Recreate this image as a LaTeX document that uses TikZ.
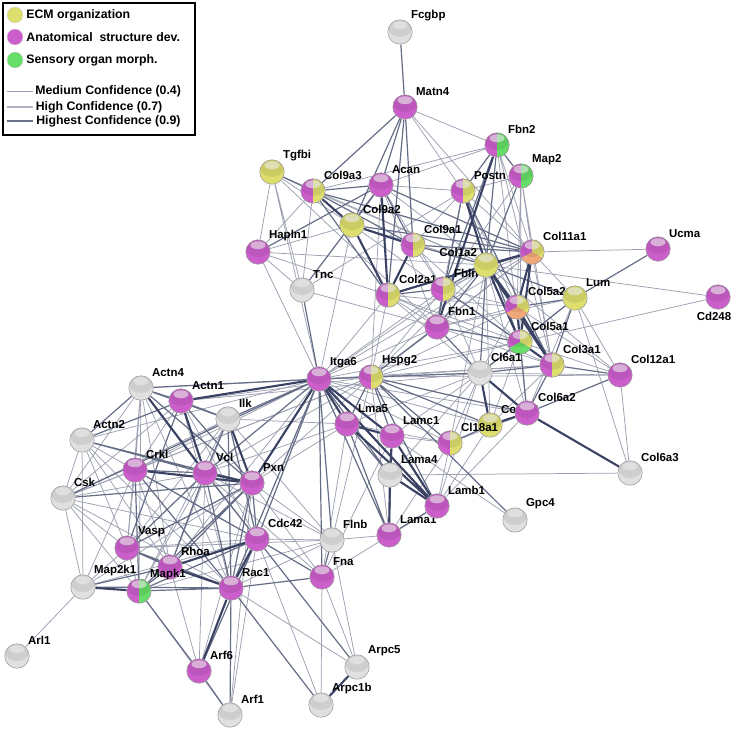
\documentclass[tikz,border=0pt]{standalone}
\usepackage{fontspec}
\setmainfont{Liberation Sans}
\usepackage{tikz}
\usetikzlibrary{backgrounds}
\definecolor{anatc}{HTML}{CC5ECC}
\definecolor{ecmc}{HTML}{DEDE6E}
\definecolor{sensc}{HTML}{66DD66}
\definecolor{orc}{HTML}{F0A878}
\definecolor{greyc}{HTML}{E0E0E0}
\definecolor{edgec}{HTML}{3A4264}
\newcommand\gloss{\fill[white,opacity=.6] ([yshift=-5.5pt]path picture bounding box.north) ellipse (7.5pt and 4pt);
  \fill[black,opacity=.08] ([yshift=4pt]path picture bounding box.center) ellipse (12pt and 9pt);}
\tikzstyle{gene}=[circle,draw=black!40,line width=0.5,inner sep=0mm,minimum size=24.5pt]
\tikzstyle{plain}=[gene,fill=greyc,path picture={\gloss}]
\tikzstyle{anat}=[gene,fill=anatc,path picture={\gloss}]
\tikzstyle{ecm}=[gene,fill=ecmc,path picture={\gloss}]
\tikzstyle{anatecm}=[gene,fill=anatc,path picture={\fill[ecmc] (path picture bounding box.north) rectangle (path picture bounding box.south east);\gloss}]
\tikzstyle{anatsens}=[gene,fill=anatc,path picture={\fill[sensc] (path picture bounding box.north) rectangle (path picture bounding box.south east);\gloss}]
\tikzset{trio/.style={gene,fill=anatc,path picture={
  \fill[ecmc] (path picture bounding box.center) -- +(330:15pt) -- +(30:15pt) -- +(90:15pt) -- cycle;
  \fill[#1] (path picture bounding box.center) -- +(210:15pt) -- +(270:15pt) -- +(330:15pt) -- cycle;
  \gloss}}}
\tikzstyle{lbl}=[font=\fontsize{11.5}{12}\selectfont\bfseries,inner sep=2pt]
\tikzstyle{legtxt}=[font=\fontsize{12.3}{13}\selectfont\bfseries,inner sep=2pt]
\tikzstyle{key}=[circle,inner sep=0mm,minimum size=16pt,draw=black!15]
\tikzstyle{medconf}=[draw=edgec!50,line width=0.75]
\tikzstyle{highconf}=[draw=edgec!78,line width=1.2]
\tikzstyle{maxconf}=[draw=edgec,line width=2.1]

\begin{document}
\begin{tikzpicture}[x=1pt,y=-1pt]
  \useasboundingbox (0,0) rectangle (736,733);
  % legend
  \draw[line width=1.6pt] (3,3) rectangle (195,135);
  \node[key,fill=ecmc,label={[legtxt,label distance=1pt]right:ECM organization}] at (15,15) (kecm) {};
  \node[key,fill=anatc,label={[legtxt,label distance=1pt]right:Anatomical~~structure dev.}] at (15,37) (kanat) {};
  \node[key,fill=sensc,label={[legtxt,label distance=1pt]right:Sensory organ morph.}] at (15,60) (ksens) {};
  \coordinate (kmed1) at (7,91);
  \coordinate (kmed2) at (33,91);
  \coordinate (khigh1) at (7,107);
  \coordinate (khigh2) at (33,107);
  \coordinate (kmax1) at (7,121);
  \coordinate (kmax2) at (33,121);
  \draw[medconf] (kmed1) -- (kmed2) node[legtxt,right] (tmed) {Medium Confidence (0.4)};
  \draw[highconf,draw=edgec!40,line width=1.6] (khigh1) -- (khigh2) node[legtxt,right] (thigh) {High Confidence (0.7)};
  \draw[maxconf,draw=edgec!75,line width=2.6] (kmax1) -- (kmax2) node[legtxt,right] (tmax) {Highest Confidence (0.9)};

  % extracellular matrix part
  \node[plain,label={[lbl]45:Fcgbp}] at (400,32) (fcgbp) {};
  \node[anat,label={[lbl]45:Matn4}] at (405,107) (matn4) {};
  \node[ecm,label={[lbl]45:Tgfbi}] at (272,172) (tgfbi) {};
  \node[anatecm,label={[lbl]45:Col9a3}] at (313,191) (col9a3) {};
  \node[anat,label={[lbl]45:Acan}] at (381,185) (acan) {};
  \node[anatecm,label={[lbl]45:Postn}] at (463,191) (postn) {};
  \node[anatsens,label={[lbl]45:Fbn2}] at (497,145) (fbn2) {};
  \node[anatsens,label={[lbl]45:Map2}] at (521,176) (map2) {};
  \node[ecm,label={[lbl]45:Col9a2}] at (352,225) (col9a2) {};
  \node[anat,label={[lbl]45:Hapln1}] at (258,252) (hapln1) {};
  \node[anatecm,label={[lbl]45:Col9a1}] at (413,245) (col9a1) {};
  \node[plain,label={[lbl]45:Tnc}] at (302,290) (tnc) {};
  \node[anatecm,label={[lbl]45:Col2a1}] at (388,295) (col2a1) {};
  \node[anatecm,label={[lbl]45:Fbln}] at (443,289) (fbln) {};
  \node[ecm,label={[lbl,xshift=4pt]150:Col1a2}] at (486,265) (col1a2) {};
  \node[trio=orc,label={[lbl]45:Col11a1}] at (532,252) (col11a1) {};
  \node[anat,label={[lbl]45:Ucma}] at (658,249) (ucma) {};
  \node[anat,label={[lbl]45:Fbn1}] at (437,327) (fbn1) {};
  \node[trio=orc,label={[lbl]45:Col5a2}] at (517,307) (col5a2) {};
  \node[ecm,label={[lbl]45:Lum}] at (575,298) (lum) {};
  \node[anat,label={[lbl,xshift=-4pt]-90:Cd248}] at (718,297) (cd248) {};
  \node[trio=sensc,label={[lbl]45:Col5a1}] at (520,342) (col5a1) {};
  \node[plain,label={[lbl]45:Cl6a1}] at (480,373) (cl6a1) {};
  \node[anatecm,label={[lbl]45:Col3a1}] at (552,365) (col3a1) {};
  \node[anat,label={[lbl]45:Col12a1}] at (620,375) (col12a1) {};
  \node[ecm,label={[lbl]45:Col6a6}] at (490,425) (col6a6) {};
  \node[anat,label={[lbl]45:Col6a2}] at (527,413) (col6a2) {};
  \node[anatecm,label={[lbl]45:Cl18a1}] at (450,443) (cl18a1) {};
  \node[plain,label={[lbl]45:Col6a3}] at (630,473) (col6a3) {};
  \node[plain,label={[lbl]45:Gpc4}] at (515,520) (gpc4) {};

  % basement membrane part
  \node[anat,label={[lbl]45:Itga6}] at (319,379) (itga6) {};
  \node[anatecm,label={[lbl]45:Hspg2}] at (371,377) (hspg2) {};
  \node[anat,label={[lbl]45:Lma5}] at (347,424) (lma5) {};
  \node[anat,label={[lbl]45:Lamc1}] at (392,436) (lamc1) {};
  \node[plain,label={[lbl]45:Lama4}] at (390,475) (lama4) {};
  \node[anat,label={[lbl]45:Lama1}] at (389,535) (lama1) {};
  \node[anat,label={[lbl]45:Lamb1}] at (437,506) (lamb1) {};
  \node[plain,label={[lbl]45:Flnb}] at (332,540) (flnb) {};
  \node[anat,label={[lbl]45:Fna}] at (322,577) (fna) {};

  % focal adhesion part
  \node[plain,label={[lbl]45:Actn4}] at (141,388) (actn4) {};
  \node[anat,label={[lbl]45:Actn1}] at (181,401) (actn1) {};
  \node[plain,label={[lbl]45:Ilk}] at (228,419) (ilk) {};
  \node[plain,label={[lbl]45:Actn2}] at (82,440) (actn2) {};
  \node[anat,label={[lbl]45:Crkl}] at (135,470) (crkl) {};
  \node[anat,label={[lbl]45:Vcl}] at (205,473) (vcl) {};
  \node[anat,label={[lbl]45:Pxn}] at (252,483) (pxn) {};
  \node[plain,label={[lbl]45:Csk}] at (63,498) (csk) {};
  \node[anat,label={[lbl]45:Vasp}] at (127,548) (vasp) {};
  \node[anat,label={[lbl]45:Rhoa}] at (170,567) (rhoa) {};
  \node[anat,label={[lbl]45:Cdc42}] at (257,539) (cdc42) {};
  \node[anat,label={[lbl]45:Rac1}] at (231,588) (rac1) {};
  \node[plain,label={[lbl]45:Map2k1}] at (83,587) (map2k1) {};
  \node[anatsens,label={[lbl]45:Mapk1}] at (139,591) (mapk1) {};
  \node[plain,label={[lbl]45:Arl1}] at (17,656) (arl1) {};
  \node[anat,label={[lbl]45:Arf6}] at (199,671) (arf6) {};
  \node[plain,label={[lbl]45:Arf1}] at (230,715) (arf1) {};
  \node[plain,label={[lbl]45:Arpc5}] at (357,667) (arpc5) {};
  \node[plain,label={[lbl]45:Arpc1b}] at (321,705) (arpc1b) {};

  \begin{scope}[on background layer]
    % medium confidence
    \draw[medconf] (matn4) -- (postn) (matn4) -- (fbn2) (matn4) -- (col11a1);
    \draw[medconf] (fbn2) -- (col9a3) (fbn2) -- (acan) (fbn2) -- (col5a1) (fbn2) -- (col3a1) (fbn2) -- (col11a1);
    \draw[medconf] (map2) -- (col5a1) (map2) -- (col3a1) (map2) -- (fbln) (map2) -- (postn) (map2) -- (col11a1) (map2) -- (col5a2);
    \draw[medconf] (postn) -- (col11a1) (postn) -- (col9a1) (postn) -- (acan) (postn) -- (tnc) (postn) -- (col5a2) (postn) -- (fbln);
    \draw[medconf] (tgfbi) -- (col9a2) (tgfbi) -- (hapln1) (tgfbi) -- (tnc) (tgfbi) -- (itga6) (tgfbi) -- (col1a2) (tgfbi) -- (fbn1);
    \draw[medconf] (hapln1) -- (col9a3) (hapln1) -- (col2a1) (hapln1) -- (col9a2) (hapln1) -- (itga6) (hapln1) -- (tnc) (hapln1) -- (col1a2);
    \draw[medconf] (tnc) -- (col9a3) (tnc) -- (fbn1) (acan) -- (fbn1) (acan) -- (hspg2) (acan) -- (col1a2) (acan) -- (fbln);
    \draw[medconf] (col9a3) -- (col1a2) (col9a2) -- (col1a2) (col9a2) -- (fbln) (col9a1) -- (col5a1) (col9a1) -- (fbln);
    \draw[medconf] (col2a1) -- (col5a1) (col2a1) -- (col5a2) (col2a1) -- (col3a1) (col2a1) -- (cl6a1) (fbn1) -- (col11a1);
    \draw[medconf] (ucma) -- (col11a1) (cd248) -- (col1a2) (cd248) -- (col5a1);
    \draw[medconf] (col12a1) -- (col5a1) (col12a1) -- (cl6a1) (col12a1) -- (col6a3) (col12a1) -- (lum) (col12a1) -- (col1a2) (col12a1) -- (col5a2);
    \draw[medconf] (lum) -- (col6a2) (lum) -- (col6a3) (lum) -- (cl6a1) (lum) -- (fbn1) (col11a1) -- (lum) (col11a1) -- (col3a1);
    \draw[medconf] (fbln) -- (col3a1) (fbln) -- (col11a1) (fbln) -- (col5a2) (fbln) -- (cl6a1) (fbn1) -- (col3a1) (fbn1) -- (col2a1) (fbn1) -- (col5a2);
    \draw[medconf] (cl18a1) -- (col6a2) (cl18a1) -- (cl6a1) (cl18a1) -- (col1a2) (col6a6) -- (col1a2) (col6a6) -- (col3a1) (col6a2) -- (col5a2);
    \draw[medconf] (col1a2) -- (col6a2) (col5a2) -- (cl6a1) (col5a1) -- (col6a6);
    \draw[medconf] (itga6) -- (fbn1) (itga6) -- (col1a2) (itga6) -- (cl6a1) (itga6) -- (col9a2) (itga6) -- (col2a1) (itga6) -- (col6a2);
    \draw[medconf] (itga6) -- (col5a1) (itga6) -- (col3a1) (itga6) -- (fbln) (itga6) -- (col11a1) (itga6) -- (cl18a1) (itga6) -- (col6a6);
    \draw[medconf] (hspg2) -- (lama1) (hspg2) -- (col1a2) (hspg2) -- (col2a1) (hspg2) -- (col12a1) (hspg2) -- (col5a1);
    \draw[medconf] (hspg2) -- (col3a1) (hspg2) -- (col5a2) (hspg2) -- (col11a1) (hspg2) -- (fbln);
    \draw[medconf] (lamc1) -- (cl18a1) (lamb1) -- (cl18a1) (lamb1) -- (col6a6) (lama4) -- (col6a3) (lamb1) -- (cl6a1) (lamb1) -- (col6a2);
    \draw[medconf] (lama4) -- (cl6a1) (lamc1) -- (cl6a1) (lma5) -- (cl6a1) (lma5) -- (cl18a1) (lama1) -- (cl18a1) (lamc1) -- (gpc4);
    \draw[medconf] (fna) -- (lma5) (fna) -- (lamb1) (fna) -- (lamc1) (flnb) -- (lama1) (flnb) -- (hspg2);
    \draw[medconf] (actn4) -- (crkl) (actn4) -- (csk) (actn4) -- (rhoa) (actn4) -- (vasp) (actn4) -- (hspg2) (actn4) -- (mapk1) (actn4) -- (rac1) (actn4) -- (cdc42);
    \draw[medconf] (actn1) -- (crkl) (actn1) -- (rac1) (actn1) -- (cdc42) (actn1) -- (hspg2) (actn1) -- (cl6a1) (actn1) -- (csk);
    \draw[medconf] (actn2) -- (crkl) (actn2) -- (csk) (actn2) -- (map2k1) (actn2) -- (itga6) (actn2) -- (rac1) (actn2) -- (cdc42) (actn2) -- (rhoa) (actn2) -- (vasp);
    \draw[medconf] (ilk) -- (crkl) (ilk) -- (flnb) (ilk) -- (rhoa) (ilk) -- (lma5) (ilk) -- (mapk1) (ilk) -- (vasp) (ilk) -- (csk);
    \draw[medconf] (crkl) -- (rhoa) (crkl) -- (csk) (crkl) -- (itga6) (crkl) -- (vasp) (crkl) -- (map2k1) (crkl) -- (hspg2);
    \draw[medconf] (csk) -- (vcl) (csk) -- (map2k1) (csk) -- (mapk1) (csk) -- (rac1) (csk) -- (cdc42) (csk) -- (vasp) (csk) -- (hspg2);
    \draw[medconf] (vcl) -- (mapk1) (vcl) -- (flnb) (vcl) -- (fna) (vcl) -- (lma5) (vcl) -- (hspg2) (vcl) -- (arf6);
    \draw[medconf] (pxn) -- (map2k1) (pxn) -- (flnb) (pxn) -- (fna) (pxn) -- (lma5) (pxn) -- (arf6) (pxn) -- (arf1) (pxn) -- (hspg2);
    \draw[medconf] (vasp) -- (cdc42) (vasp) -- (mapk1) (vasp) -- (map2k1) (vasp) -- (flnb) (rhoa) -- (arf6) (rhoa) -- (itga6);
    \draw[medconf] (rac1) -- (arpc5) (rac1) -- (flnb) (cdc42) -- (arf1) (cdc42) -- (arpc1b) (cdc42) -- (flnb) (map2k1) -- (cdc42) (mapk1) -- (flnb);
    \draw[medconf] (arpc5) -- (fna) (arpc1b) -- (fna) (arpc5) -- (flnb) (map2k1) -- (arl1) (arf1) -- (mapk1);
    % high confidence
    \draw[highconf] (fcgbp) -- (matn4) (matn4) -- (col9a3) (matn4) -- (acan) (matn4) -- (col9a2) (matn4) -- (col9a1) (matn4) -- (col2a1);
    \draw[highconf] (fbn2) -- (col1a2) (fbn2) -- (fbln) (fbn2) -- (postn) (fbn2) -- (map2) (map2) -- (col1a2);
    \draw[highconf] (postn) -- (col5a1) (postn) -- (col3a1) (postn) -- (fbn1) (tgfbi) -- (col9a3) (tnc) -- (acan) (tnc) -- (itga6);
    \draw[highconf] (acan) -- (col9a3) (acan) -- (col9a1) (acan) -- (col11a1) (acan) -- (hapln1) (acan) -- (col9a2);
    \draw[highconf] (col9a3) -- (col9a1) (col9a3) -- (col2a1) (col9a3) -- (col11a1) (col9a2) -- (col11a1) (col11a1) -- (col9a1) (col9a1) -- (col1a2);
    \draw[highconf] (fbln) -- (col2a1) (fbln) -- (col1a2) (fbln) -- (col5a1) (fbn1) -- (fbln) (fbn1) -- (col1a2);
    \draw[highconf] (fbn1) -- (col5a1) (fbn1) -- (cl6a1) (col1a2) -- (col2a1) (col1a2) -- (cl6a1) (col3a1) -- (cl6a1);
    \draw[highconf] (col3a1) -- (lum) (col1a2) -- (lum) (lum) -- (col5a1) (lum) -- (col5a2) (ucma) -- (lum);
    \draw[highconf] (col3a1) -- (col6a2) (col5a1) -- (col6a2) (col5a1) -- (cl6a1) (col12a1) -- (col3a1) (col12a1) -- (col6a2);
    \draw[highconf] (cl18a1) -- (col6a6) (hspg2) -- (cl18a1) (hspg2) -- (gpc4) (hspg2) -- (col6a2) (hspg2) -- (cl6a1) (hspg2) -- (fbn1) (hspg2) -- (col6a6);
    \draw[highconf] (itga6) -- (lama4) (itga6) -- (lama1) (itga6) -- (hspg2) (lma5) -- (lama1) (lma5) -- (lama4);
    \draw[highconf] (lamc1) -- (lama1) (lamb1) -- (lama1) (hspg2) -- (lma5) (hspg2) -- (lamc1) (hspg2) -- (lamb1);
    \draw[highconf] (actn4) -- (actn1) (actn4) -- (actn2) (actn4) -- (pxn) (actn4) -- (itga6) (actn4) -- (ilk);
    \draw[highconf] (actn1) -- (actn2) (actn1) -- (pxn) (actn1) -- (ilk) (actn1) -- (vasp) (actn2) -- (vcl) (actn2) -- (pxn);
    \draw[highconf] (ilk) -- (vcl) (ilk) -- (itga6) (ilk) -- (rac1) (ilk) -- (cdc42);
    \draw[highconf] (crkl) -- (vcl) (crkl) -- (rac1) (crkl) -- (cdc42) (crkl) -- (mapk1) (csk) -- (pxn) (csk) -- (itga6);
    \draw[highconf] (vcl) -- (itga6) (vcl) -- (rac1) (vcl) -- (cdc42) (vcl) -- (rhoa) (vcl) -- (vasp);
    \draw[highconf] (pxn) -- (cdc42) (pxn) -- (rac1) (pxn) -- (rhoa) (pxn) -- (mapk1) (pxn) -- (vasp);
    \draw[highconf] (vasp) -- (rhoa) (vasp) -- (rac1) (rhoa) -- (mapk1) (rhoa) -- (map2k1);
    \draw[highconf] (rac1) -- (mapk1) (rac1) -- (map2k1) (rac1) -- (arf1) (rac1) -- (arpc1b) (rac1) -- (fna) (rac1) -- (itga6);
    \draw[highconf] (mapk1) -- (arf6) (mapk1) -- (cdc42) (cdc42) -- (arf6) (cdc42) -- (arpc5) (cdc42) -- (fna) (cdc42) -- (itga6);
    \draw[highconf] (arf6) -- (arf1) (flnb) -- (itga6) (flnb) -- (fna) (fna) -- (itga6);
    % highest confidence
    \draw[maxconf] (col9a3) -- (col9a2) (col9a2) -- (col9a1) (col9a2) -- (col2a1) (col9a1) -- (col2a1) (acan) -- (col2a1);
    \draw[maxconf] (col11a1) -- (col2a1) (col11a1) -- (col5a2) (col11a1) -- (col5a1) (col1a2) -- (col11a1);
    \draw[maxconf] (col1a2) -- (col5a2) (col1a2) -- (col5a1) (col1a2) -- (col3a1) (col1a2) -- (postn);
    \draw[maxconf] (col5a1) -- (col5a2) (col5a1) -- (col3a1) (col5a2) -- (col3a1) (fbn1) -- (fbn2);
    \draw[maxconf] (col6a2) -- (col6a3) (cl6a1) -- (col6a2) (cl6a1) -- (col6a6) (col6a2) -- (col6a6);
    \draw[maxconf] (itga6) -- (lma5) (itga6) -- (lamc1) (itga6) -- (lamb1) (lma5) -- (lamc1) (lma5) -- (lamb1);
    \draw[maxconf] (lamc1) -- (lama4) (lamc1) -- (lamb1) (lama4) -- (lamb1) (lama4) -- (lama1);
    \draw[maxconf] (actn4) -- (vcl) (actn1) -- (vcl) (actn1) -- (itga6) (ilk) -- (pxn) (crkl) -- (pxn);
    \draw[maxconf] (vcl) -- (pxn) (pxn) -- (itga6) (rhoa) -- (rac1) (rhoa) -- (cdc42) (rac1) -- (cdc42);
    \draw[maxconf] (rac1) -- (arf6) (mapk1) -- (map2k1) (arpc5) -- (arpc1b);
  \end{scope}
\end{tikzpicture}
\end{document}
